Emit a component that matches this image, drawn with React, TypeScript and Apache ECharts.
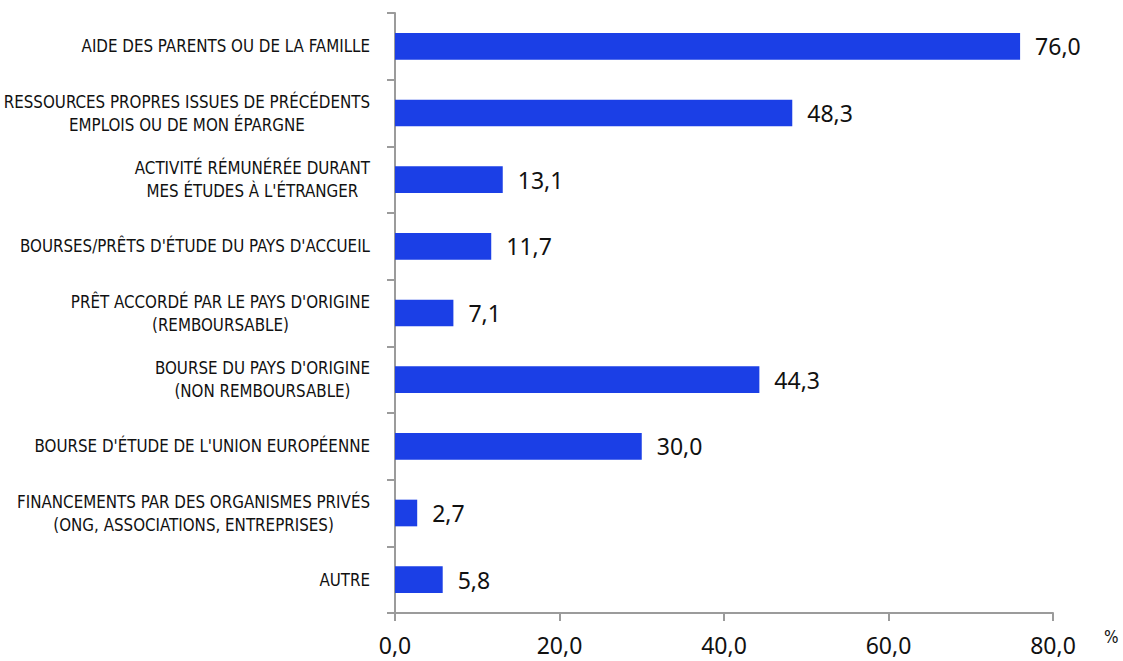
import React, { useEffect, useRef } from "react";
import * as echarts from "echarts";

const categories: string[] = [
  "AIDE DES PARENTS OU DE LA FAMILLE",
  "RESSOURCES PROPRES ISSUES DE PRÉCÉDENTS\nEMPLOIS OU DE MON ÉPARGNE",
  "ACTIVITÉ RÉMUNÉRÉE DURANT\nMES ÉTUDES À L'ÉTRANGER",
  "BOURSES/PRÊTS D'ÉTUDE DU PAYS D'ACCUEIL",
  "PRÊT ACCORDÉ PAR LE PAYS D'ORIGINE\n(REMBOURSABLE)",
  "BOURSE DU PAYS D'ORIGINE\n(NON REMBOURSABLE)",
  "BOURSE D'ÉTUDE DE L'UNION EUROPÉENNE",
  "FINANCEMENTS PAR DES ORGANISMES PRIVÉS\n(ONG, ASSOCIATIONS, ENTREPRISES)",
  "AUTRE",
];

const values: number[] = [76.0, 48.3, 13.1, 11.7, 7.1, 44.3, 30.0, 2.7, 5.8];

const xTicks = { min: 0, max: 80, interval: 20 };
const unitLabel = "%";

const fmt = (v: number) => v.toFixed(1).replace(".", ",");

const CAT_FONT = "'Liberation Sans Narrow', 'DejaVu Sans Condensed', sans-serif";
const NUM_FONT = "'Noto Sans', 'Open Sans', sans-serif";

export default function App() {
  const ref = useRef<HTMLDivElement>(null);
  useEffect(() => {
    if (!ref.current) return;
    const chart = echarts.init(ref.current, null, { renderer: "svg" });
    const axisGrey = "#9b9b9b";
    chart.setOption({
      animation: false,
      backgroundColor: "#ffffff",
      grid: {
        left: 395,
        right: 70,
        top: 13,
        bottom: 48,
        containLabel: false,
        outerBoundsMode: "none",
      },
      xAxis: {
        type: "value",
        min: xTicks.min,
        max: xTicks.max,
        interval: xTicks.interval,
        splitLine: { show: false },
        axisLine: { show: true, lineStyle: { color: axisGrey, width: 2 } },
        axisTick: { show: true, length: 8, lineStyle: { color: axisGrey, width: 2 } },
        axisLabel: {
          formatter: (v: number) => fmt(v),
          fontFamily: NUM_FONT,
          fontSize: 23,
          color: "#111",
          margin: 20,
        },
      },
      yAxis: {
        type: "category",
        data: categories,
        inverse: true,
        axisLine: { show: true, lineStyle: { color: axisGrey, width: 2 } },
        axisTick: { show: true, length: 8, lineStyle: { color: axisGrey, width: 2 } },
        axisLabel: {
          margin: 25,
          align: "right",
          formatter: (v: string) =>
            v
              .split("\n")
              .map((l) => `{c|${l}}`)
              .join("\n"),
          rich: {
            c: {
              align: "center",
              fontFamily: CAT_FONT,
              fontSize: 16.8,
              lineHeight: 23,
              color: "#111",
            },
          },
        },
      },
      series: [
        {
          type: "bar",
          data: values,
          barWidth: "40%",
          itemStyle: { color: "#1b3fe6" },
          label: {
            show: true,
            position: "right",
            distance: 15,
            formatter: (p: any) => fmt(p.value),
            fontFamily: NUM_FONT,
            fontSize: 23,
            color: "#111",
          },
        },
      ],
      graphic: [
        {
          type: "text",
          left: 1104,
          top: 628,
          style: {
            text: unitLabel,
            fontFamily: CAT_FONT,
            fontSize: 17,
            fill: "#111",
          },
        },
      ],
    });
    return () => chart.dispose();
  }, []);
  return (
    <div
      ref={ref}
      style={{ position: "fixed", left: 0, top: 0, width: 1123, height: 661 }}
    />
  );
}
